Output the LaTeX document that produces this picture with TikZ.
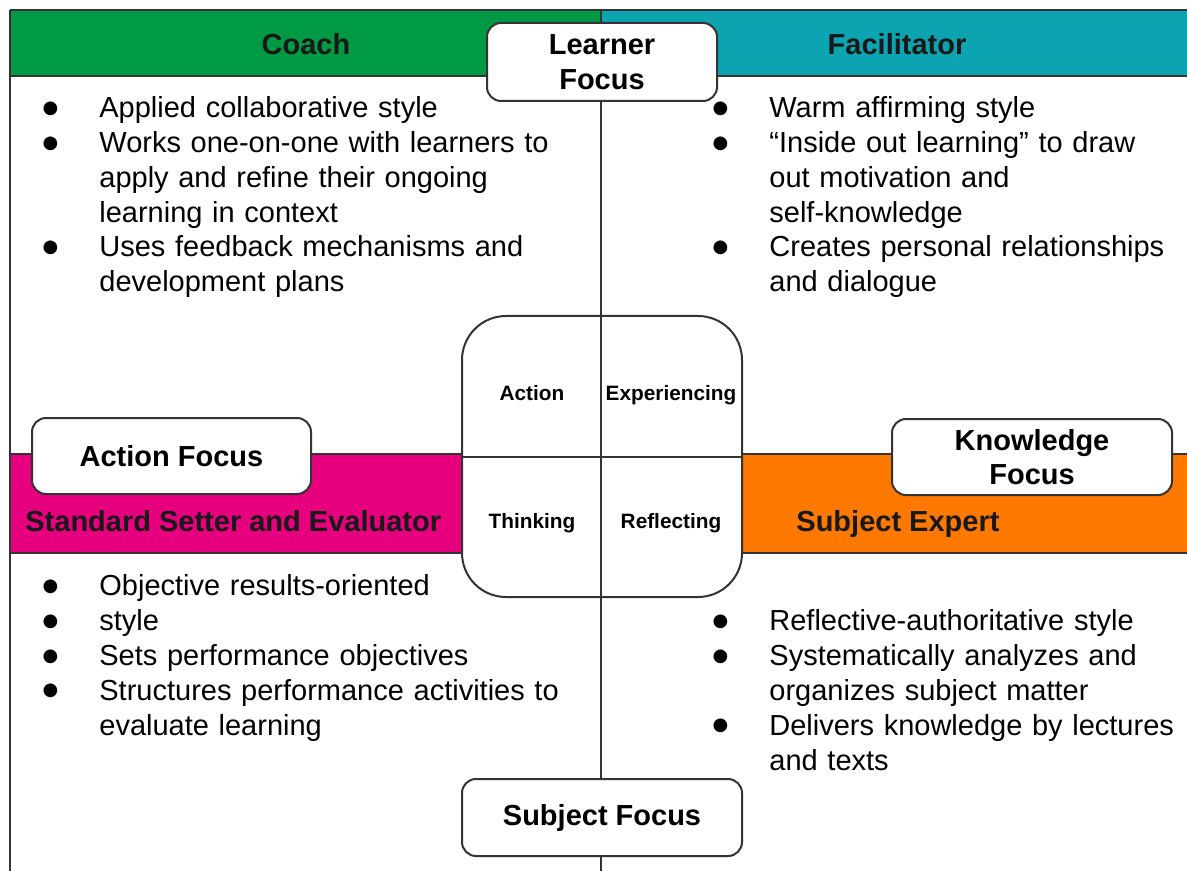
\documentclass[tikz,border=0pt]{standalone}
\usepackage{fontspec}
\setmainfont{Liberation Sans}
\newfontfamily\dotfont{DejaVu Sans}
\usetikzlibrary{positioning}

\definecolor{coachgreen}{RGB}{0,154,68}
\definecolor{facilteal}{RGB}{12,164,176}
\definecolor{settermagenta}{RGB}{230,0,126}
\definecolor{expertorange}{RGB}{255,120,0}
\definecolor{edgegray}{RGB}{51,51,51}

% bullet lists
\newcommand{\dotlabel}{\makebox[0pt]{\raisebox{2.2pt}{\dotfont\fontsize{9}{9}\selectfont ●}}}
\newenvironment{pointlist}{%
  \begin{list}{\dotlabel}{%
    \setlength{\leftmargin}{29.5pt}\setlength{\labelsep}{24.5pt}%
    \setlength{\labelwidth}{5pt}%
    \setlength{\itemsep}{0pt}\setlength{\parsep}{0pt}%
    \setlength{\topsep}{0pt}\setlength{\partopsep}{0pt}}}
  {\end{list}}

\tikzset{
  rule/.style   = {draw=edgegray, line width=1pt},
  focus/.style  = {rule, fill=white, rounded corners=7pt, align=center, inner sep=0pt,
                   minimum width=140pt, minimum height=38pt,
                   font=\bfseries\fontsize{14.5}{17.2}\selectfont},
  role/.style   = {font=\bfseries\fontsize{14.5}{17.2}\selectfont, text=black!90, inner sep=0pt},
  mode/.style   = {font=\bfseries\fontsize{10.4}{12}\selectfont, inner sep=0pt},
  bullets/.style= {anchor=base west, inner sep=0pt, text width=270pt, align=left,
                   font=\fontsize{14.5}{17.4}\selectfont}
}

\begin{document}
\begin{tikzpicture}[x=0.5pt,y=-0.5pt]
  \useasboundingbox (0,0) rectangle (1187,871);

  % coloured bands
  \fill[coachgreen]    (10,10)  rectangle (601,76);
  \fill[facilteal]     (601,10) rectangle (1187,76);
  \fill[settermagenta] (10,454) rectangle (462,553);
  \fill[expertorange]  (742,454) rectangle (1187,553);
  \draw[rule] (10,10) -- (1187,10);
  \draw[rule] (10,76) -- (1187,76);
  \draw[rule] (10,454) -- (462,454);
  \draw[rule] (10,553) -- (462,553);
  \draw[rule] (742,454) -- (1187,454);
  \draw[rule] (742,553) -- (1187,553);
  \draw[rule] (10,10) -- (10,871);

  % learning cycle in the middle
  \node[rule, fill=white, rounded corners=22pt, minimum width=140pt, minimum height=140.5pt,
        inner sep=0pt] (cycle) at (602,456.5) {};
  \coordinate (axistop) at (601,10);
  \coordinate (axisbot) at (601,871);
  \draw[rule] (axistop) -- (axisbot);
  \draw[rule] (cycle.west) -- (cycle.east);

  \node[mode, anchor=base] (action)   at (532,400) {Action};
  \node[mode, anchor=base] (experien) at (671,400) {Experiencing};
  \node[mode, anchor=base] (thinking) at (532,528) {Thinking};
  \node[mode, anchor=base] (reflect)  at (671,528) {Reflecting};

  % focus labels
  \node[focus, minimum width=115pt, minimum height=39pt] (learner) at (602,62) {Learner\\Focus};
  \node[focus, minimum width=139.5pt] (actfocus)  at (171.5,456) {Action Focus};
  \node[focus] (knowfocus) at (1032,457) {Knowledge\\Focus};
  \node[focus, minimum height=38.5pt] (subjfocus) at (602,817.5) {Subject Focus};

  % roles
  \node[role] (coach)  at (306,44)  {Coach};
  \node[role] (facil)  at (897,44)  {Facilitator};
  \node[role, anchor=base west] (setter) at (25,531)  {Standard Setter and Evaluator};
  \node[role, anchor=base west] (expert) at (796,531) {Subject Expert};

  % what each role does
  \node[bullets] (coachlist) at (40,83) {\begin{pointlist}
    \item Applied collaborative style
    \item Works one-on-one with learners to\\apply and refine their ongoing\\learning in context
    \item Uses feedback mechanisms and\\development plans
  \end{pointlist}};
  \node[bullets] (facillist) at (710,83) {\begin{pointlist}
    \item Warm affirming style
    \item “Inside out learning” to draw\\out motivation and\\self-knowledge
    \item Creates personal relationships\\and dialogue
  \end{pointlist}};
  \node[bullets] (setterlist) at (40,561) {\begin{pointlist}
    \item Objective results-oriented
    \item style
    \item Sets performance objectives
    \item Structures performance activities to\\evaluate learning
  \end{pointlist}};
  \node[bullets] (expertlist) at (710,596) {\begin{pointlist}
    \item Reflective-authoritative style
    \item Systematically analyzes and\\organizes subject matter
    \item Delivers knowledge by lectures\\and texts
  \end{pointlist}};
\end{tikzpicture}
\end{document}
